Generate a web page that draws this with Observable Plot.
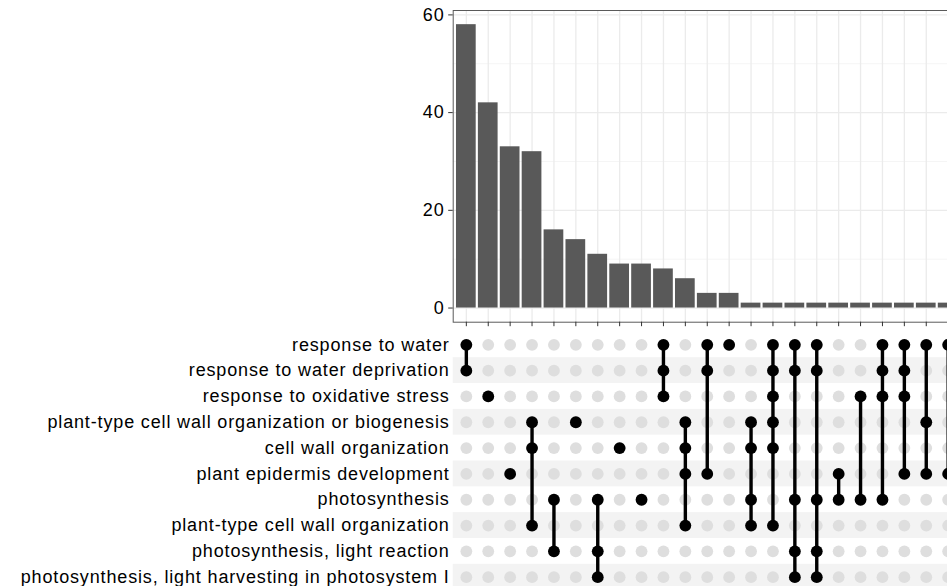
<!DOCTYPE html>
<html>
<head>
<meta charset="utf-8">
<script src="https://cdn.jsdelivr.net/npm/d3@7"></script>
<script src="https://cdn.jsdelivr.net/npm/@observablehq/plot@0.6"></script>
<style>
  html, body { margin: 0; padding: 0; background: #fff; overflow: hidden; }
  #chart { position: relative; width: 947px; height: 586px; overflow: hidden; }
  #chart svg { display: block; max-width: none; }
  #chart text { letter-spacing: 0.85px; }
</style>
</head>
<body>
<div id="chart"></div>
<script>
// GO term sets (rows of the combination matrix, top to bottom)
const sets = [
  "response to water",
  "response to water deprivation",
  "response to oxidative stress",
  "plant-type cell wall organization or biogenesis",
  "cell wall organization",
  "plant epidermis development",
  "photosynthesis",
  "plant-type cell wall organization",
  "photosynthesis, light reaction",
  "photosynthesis, light harvesting in photosystem I"
];

// Intersection sizes, in plotted order
const counts = [58, 42, 33, 32, 16, 14, 11, 9, 9, 8, 6, 3, 3, 1, 1, 1, 1, 1, 1, 1, 1, 1, 1];

// Set membership of each intersection (row indices into `sets`)
const members = [
  [0, 1], [2], [5], [3, 4, 7], [6, 8], [3], [6, 8, 9], [4], [6], [0, 1, 2],
  [3, 4, 5, 7], [0, 1, 5], [0], [3, 4, 6, 7], [0, 1, 2, 3, 4, 7], [0, 1, 6, 8, 9],
  [0, 1, 6, 8, 9], [5, 6], [2, 6], [0, 1, 2, 6], [0, 1, 2, 5], [0, 3, 5], [0, 5]
];

const yTicks = [0, 20, 40, 60];
const yMinor = [10, 30, 50];

// tables built from the arrays above
const bars = counts.map((n, i) => ({i, n}));
const cols = members.map((m, i) => ({i, lo: d3.min(m), hi: d3.max(m)}));
const filled = members.flatMap((m, i) => m.map(r => ({i, r})));
const empty = d3.cross(d3.range(counts.length), d3.range(sets.length), (i, r) => ({i, r}));
const stripes = d3.range(sets.length).filter(r => r % 2 === 1);
const idx = d3.range(counts.length);

const font = "'Liberation Sans', Arial, Helvetica, sans-serif";
const fs = 18;
const xDomain = [-0.6, counts.length - 1 + 0.6];
const W = 971, ML = 452.7, MR = 10.2;
const svgStyle = {maxWidth: "none", background: "transparent", fontFamily: font, fontSize: fs + "px", color: "#333"};

const barPlot = Plot.plot({
  width: W,
  height: 331,
  marginLeft: ML,
  marginRight: MR,
  marginTop: 10,
  marginBottom: 9.3,
  style: svgStyle,
  x: {type: "linear", domain: xDomain, axis: null},
  y: {domain: [-2.9, 60.9], axis: null},
  marks: [
    Plot.ruleY(yMinor, {stroke: "#f2f2f2", strokeWidth: 0.8}),
    Plot.ruleY(yTicks, {stroke: "#ebebeb", strokeWidth: 1.3}),
    Plot.ruleX(idx, {stroke: "#ebebeb", strokeWidth: 1.3}),
    Plot.rectY(bars, {x1: d => d.i - 0.45, x2: d => d.i + 0.45, y1: 0, y2: "n", fill: "#595959"}),
    Plot.frame({stroke: "#5a5a5a", strokeWidth: 1}),
    Plot.axisY({ticks: yTicks, label: null, tickSize: 4.5, tickPadding: 4.2, stroke: "#333", fill: "#000", fontSize: fs}),
    Plot.axisX({ticks: idx, label: null, tickSize: 4.5, tickFormat: () => "", stroke: "#333"})
  ]
});

const matrixPlot = Plot.plot({
  width: W,
  height: 270,
  marginLeft: ML,
  marginRight: MR,
  marginTop: 0.4,
  marginBottom: 11.4,
  style: svgStyle,
  x: {type: "linear", domain: xDomain, axis: null},
  y: {type: "linear", domain: [-0.5, sets.length - 0.5], reverse: true, axis: null},
  marks: [
    Plot.rect(stripes, {x1: xDomain[0], x2: xDomain[1], y1: r => r - 0.5, y2: r => r + 0.5, fill: "#f3f3f3"}),
    Plot.dot(empty, {x: "i", y: "r", r: 5.9, fill: "#dedede", stroke: null}),
    Plot.ruleX(cols, {x: "i", y1: "lo", y2: "hi", stroke: "#000", strokeWidth: 3.4}),
    Plot.dot(filled, {x: "i", y: "r", r: 5.9, fill: "#000", stroke: null}),
    Plot.text(sets, {x: xDomain[0], y: (d, i) => i, text: d => d, textAnchor: "end", dx: -3.6, fill: "#000", fontSize: fs})
  ]
});

const chart = document.getElementById("chart");
chart.appendChild(barPlot);
chart.appendChild(matrixPlot);
</script>
</body>
</html>
